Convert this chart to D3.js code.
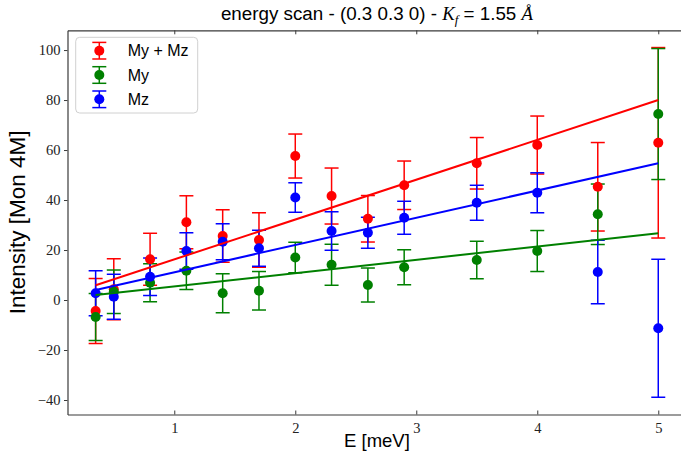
<!DOCTYPE html>
<html>
<head>
<meta charset="utf-8">
<script src="https://cdn.jsdelivr.net/npm/d3@7"></script>
<style>
  body { margin: 0; background: #fff; }
  svg { display: block; }
</style>
</head>
<body>
<div id="chart"></div>
<script>
// energy transfer (meV)
const energy = [0.35, 0.5, 0.8, 1.1, 1.4, 1.7, 2.0, 2.3, 2.6, 2.9, 3.5, 4.0, 4.5, 5.0];

// My + Mz
const sumValues = [-4.4, 4.3, 16.3, 31.1, 25.6, 24.0, 57.6, 41.6, 32.5, 45.9, 54.7, 62.0, 45.3, 62.9];
const sumErrors = [13.0, 12.2, 10.4, 10.6, 10.5, 10.9, 8.8, 11.2, 9.3, 9.7, 10.3, 11.6, 17.7, 38.1];

// My
const myValues = [-6.8, 3.3, 6.9, 11.7, 2.7, 3.7, 17.0, 14.1, 6.0, 13.1, 16.0, 19.6, 34.3, 74.4];
const myErrors = [9.4, 8.7, 7.6, 7.5, 7.8, 7.7, 6.1, 8.2, 6.8, 7.0, 7.5, 8.2, 12.1, 26.2];

// Mz
const mzValues = [2.7, 1.3, 9.3, 19.6, 23.3, 20.7, 41.0, 27.6, 26.9, 32.9, 38.9, 42.9, 11.2, -11.3];
const mzErrors = [9.0, 9.0, 7.5, 7.3, 7.2, 7.2, 5.9, 7.7, 6.2, 6.6, 7.0, 8.0, 12.7, 27.6];

// linear fits, value at first and last energy
const fitEnergy = [0.35, 5.0];
const sumFit = [5.9, 80.0];
const myFit = [2.0, 26.7];
const mzFit = [4.0, 54.7];

const seriesNames = ["My + Mz", "My", "Mz"];
const seriesColors = ["#ff0000", "#008000", "#0000ff"];

const xTicks = [1, 2, 3, 4, 5];
const yTicks = [-40, -20, 0, 20, 40, 60, 80, 100];

const series = [
  { name: seriesNames[0], color: seriesColors[0], values: sumValues, errors: sumErrors, fit: sumFit },
  { name: seriesNames[1], color: seriesColors[1], values: myValues, errors: myErrors, fit: myFit },
  { name: seriesNames[2], color: seriesColors[2], values: mzValues, errors: mzErrors, fit: mzFit }
];

const width = 681,
  height = 463,
  plot = { left: 67.5, right: 686.4, top: 30.3, bottom: 414.5 };

const sans = "'Liberation Sans', Arial, sans-serif";
const serif = "'Liberation Serif', 'Times New Roman', serif";

// scales (matplotlib style 5% margins)
let xScale = d3.scaleLinear()
  .domain([0.1175, 5.2325])
  .range([plot.left, plot.right]);
let yScale = d3.scaleLinear()
  .domain([-45.8, 107.9])
  .range([plot.bottom, plot.top]);

let svg = d3.select("#chart")
  .append("svg")
  .attr("width", width)
  .attr("height", height);

// error bars first
const cap = 7;
series.forEach(s => {
  let g = svg.append("g").attr("stroke", s.color).attr("stroke-width", 1.5);
  g.selectAll(".bar").data(s.values).enter()
    .append("line")
    .attr("x1", (d, i) => xScale(energy[i]))
    .attr("x2", (d, i) => xScale(energy[i]))
    .attr("y1", (d, i) => yScale(d - s.errors[i]))
    .attr("y2", (d, i) => yScale(d + s.errors[i]));
  [-1, 1].forEach(sign => {
    g.selectAll(".cap" + sign).data(s.values).enter()
      .append("line")
      .attr("x1", (d, i) => xScale(energy[i]) - cap)
      .attr("x2", (d, i) => xScale(energy[i]) + cap)
      .attr("y1", (d, i) => yScale(d + sign * s.errors[i]))
      .attr("y2", (d, i) => yScale(d + sign * s.errors[i]));
  });
});

// markers
series.forEach(s => {
  svg.append("g").selectAll("circle")
    .data(s.values).enter()
    .append("circle")
    .attr("cx", (d, i) => xScale(energy[i]))
    .attr("cy", d => yScale(d))
    .attr("r", 5)
    .style("fill", s.color);
});

// fit lines
let line = d3.line()
  .x((d, i) => xScale(fitEnergy[i]))
  .y(d => yScale(d));

series.forEach(s => {
  svg.append("path")
    .attr("d", line(s.fit))
    .attr("stroke", s.color)
    .attr("stroke-width", 2)
    .attr("fill", "none");
});

// axes
const axisColor = "#3a3a3a";
function styleAxis(g) {
  g.select(".domain").attr("stroke", axisColor).attr("stroke-width", 1.2);
  g.selectAll(".tick line").attr("stroke", axisColor).attr("stroke-width", 1);
  g.selectAll(".tick text")
    .attr("fill", "#222")
    .style("font-family", serif)
    .style("font-size", "14.5px");
}

svg.append("g")
  .attr("transform", "translate(0," + plot.bottom + ")")
  .call(d3.axisBottom(xScale).tickValues(xTicks).tickFormat(d3.format("d"))
    .tickSizeInner(-4).tickSizeOuter(0).tickPadding(8))
  .call(styleAxis);

svg.append("g")
  .attr("transform", "translate(0," + plot.top + ")")
  .call(d3.axisTop(xScale).tickValues(xTicks).tickFormat("")
    .tickSizeInner(-4).tickSizeOuter(0))
  .call(styleAxis);

svg.append("g")
  .attr("transform", "translate(" + plot.left + ",0)")
  .call(d3.axisLeft(yScale).tickValues(yTicks)
    .tickSizeInner(3.5).tickSizeOuter(0).tickPadding(3.5))
  .call(styleAxis);

// axis labels
svg.append("text")
  .attr("x", (plot.left + plot.right) / 2)
  .attr("y", 447)
  .attr("text-anchor", "middle")
  .style("font-family", sans)
  .style("font-size", "18.5px")
  .text("E [meV]");

svg.append("text")
  .attr("transform", "translate(17," + (plot.top + plot.bottom) / 2 + ") rotate(-90)")
  .attr("text-anchor", "middle")
  .attr("dominant-baseline", "central")
  .style("font-family", sans)
  .style("font-size", "22.5px")
  .text("Intensity [Mon 4M]");

// title
let title = svg.append("text")
  .attr("x", (plot.left + plot.right) / 2)
  .attr("y", 20)
  .attr("text-anchor", "middle")
  .style("font-family", sans)
  .style("font-size", "18.8px");
title.append("tspan").text("energy scan - (0.3 0.3 0) - ");
title.append("tspan").style("font-family", serif).style("font-style", "italic").text("K");
title.append("tspan").style("font-family", serif).style("font-style", "italic")
  .style("font-size", "13px").attr("dy", 3.5).text("f");
title.append("tspan").attr("dy", -3.5).text(" = 1.55 ");
title.append("tspan").style("font-family", serif).style("font-style", "italic").text("\u00c5");

// legend
let legend = svg.append("g");
legend.append("rect")
  .attr("x", 75.7).attr("y", 37.3)
  .attr("width", 122).attr("height", 75.7)
  .attr("rx", 4)
  .attr("fill", "white").attr("fill-opacity", 0.8)
  .attr("stroke", "#d0d0d0");

series.forEach((s, i) => {
  const ly = 50.7 + i * 24.3, lx = 99.3;
  let g = legend.append("g").attr("stroke", s.color).attr("stroke-width", 1.5);
  g.append("line").attr("x1", lx).attr("x2", lx).attr("y1", ly - 8.3).attr("y2", ly + 8.3);
  g.append("line").attr("x1", lx - cap).attr("x2", lx + cap).attr("y1", ly - 8.3).attr("y2", ly - 8.3);
  g.append("line").attr("x1", lx - cap).attr("x2", lx + cap).attr("y1", ly + 8.3).attr("y2", ly + 8.3);
  legend.append("circle").attr("cx", lx).attr("cy", ly).attr("r", 5).style("fill", s.color);
  legend.append("text")
    .attr("x", 127.7).attr("y", ly)
    .attr("dominant-baseline", "central")
    .style("font-family", sans)
    .style("font-size", "16px")
    .text(s.name);
});
</script>
</body>
</html>
